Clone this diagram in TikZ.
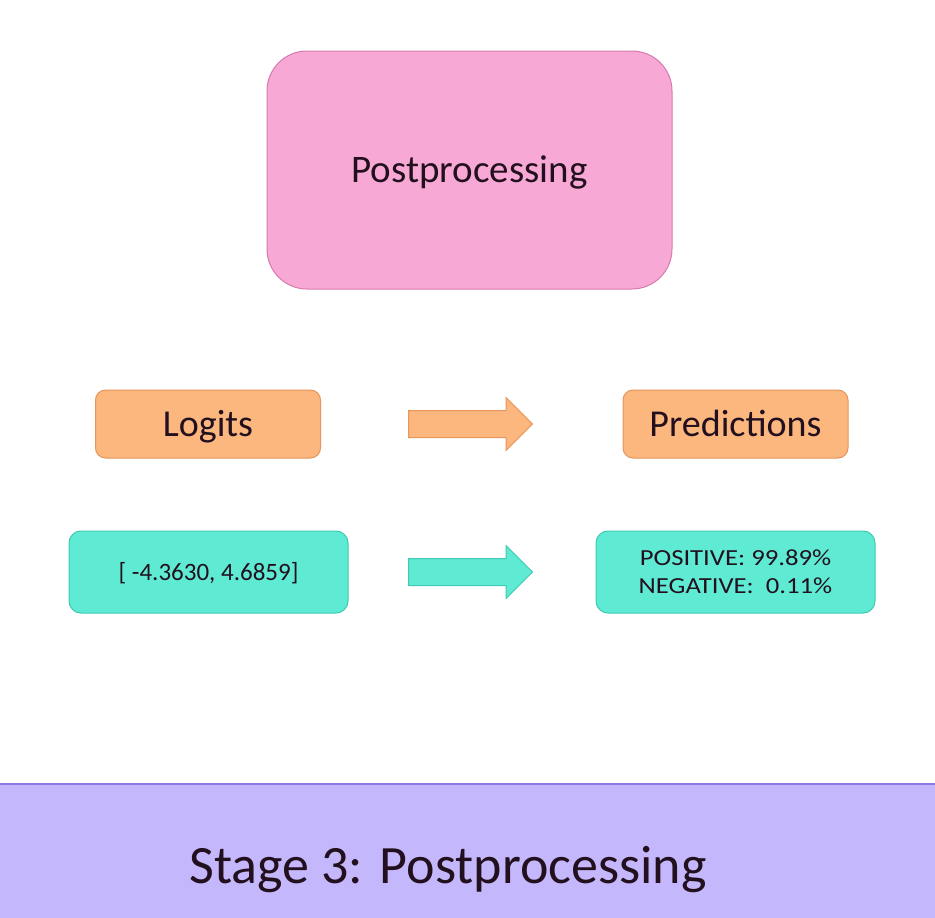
\documentclass[tikz,border=0pt]{standalone}
\usepackage{fontspec}
\setmainfont{Carlito}
\usetikzlibrary{shapes,arrows,positioning,shapes.geometric,calc}

\definecolor{pinkfill}{HTML}{F8A8D4}
\definecolor{pinkline}{HTML}{D87AAE}
\definecolor{orangefill}{HTML}{FBB77E}
\definecolor{orangeline}{HTML}{E8955C}
\definecolor{tealfill}{HTML}{5EEAD3}
\definecolor{tealline}{HTML}{40CAB3}
\definecolor{bandfill}{HTML}{C5B7FB}
\definecolor{bandline}{HTML}{8A78E4}
\definecolor{inktext}{HTML}{22101E}

\tikzset{
  capsmid/.style={text height=#1, text depth=0pt},
  stagebox/.style={draw=pinkline, fill=pinkfill, line width=1pt, rounded corners=40pt,
    minimum width=405pt, minimum height=238pt, inner sep=0pt, text=inktext},
  orangebox/.style={draw=orangeline, fill=orangefill, line width=1pt, rounded corners=10pt,
    minimum width=225pt, minimum height=68pt, inner sep=0pt, text=inktext, capsmid=24.5pt},
  tealbox/.style={draw=tealline, fill=tealfill, line width=1pt, rounded corners=12pt,
    minimum width=279pt, minimum height=82pt, inner sep=0pt, text=inktext, align=center},
  blockarrow/.style={single arrow, line width=1pt, minimum height=124pt, anchor=tail,
    inner xsep=0pt, inner ysep=13pt, single arrow head extend=13pt}
}

\begin{document}
\begin{tikzpicture}[x=1pt, y=-1pt]
			\useasboundingbox (0,0) rectangle (935,918);
			\fill[white] (0,0) rectangle (935,918);
			
			% top box
			\node[stagebox, capsmid=25pt, font=\fontsize{39}{44}\selectfont] (post) at (469.5,170) {Postprocessing};
			
			% first row
			\node[orangebox, font=\fontsize{38}{42}\selectfont] (logits) at (208,424) {Logits};
			\node[orangebox, font=\fontsize{38}{42}\selectfont] (preds) at (735.5,424) {Predictions};
			\node[blockarrow, draw=orangeline, fill=orangefill] (logitArrow) at ($(logits.east)+(87,0)$) {};
			
			% second row
			\node[tealbox, capsmid=16pt, font=\fontsize{25}{32}\selectfont] (values) at (208.5,572) {[ -4.3630, 4.6859]};
			\node[tealbox, font=\fontsize{23}{28}\selectfont\addfontfeatures{FakeStretch=1.16}] (probs) at (735.5,572) {POSITIVE: 99.89\%\\NEGATIVE:\ \ 0.11\%};
			\node[blockarrow, draw=tealline, fill=tealfill] (valueArrow) at ($(values.east)+(59.5,0)$) {};
			
			% bottom band
			\fill[bandfill] (0,784) rectangle (935,918);
			\draw[bandline, line width=2pt] (0,784) -- (935,784);
			\node[text=inktext, capsmid=35pt, font=\fontsize{54}{60}\selectfont] (stage) at (448,865.5) {Stage 3: Postprocessing};
			\end{tikzpicture}
\end{document}
